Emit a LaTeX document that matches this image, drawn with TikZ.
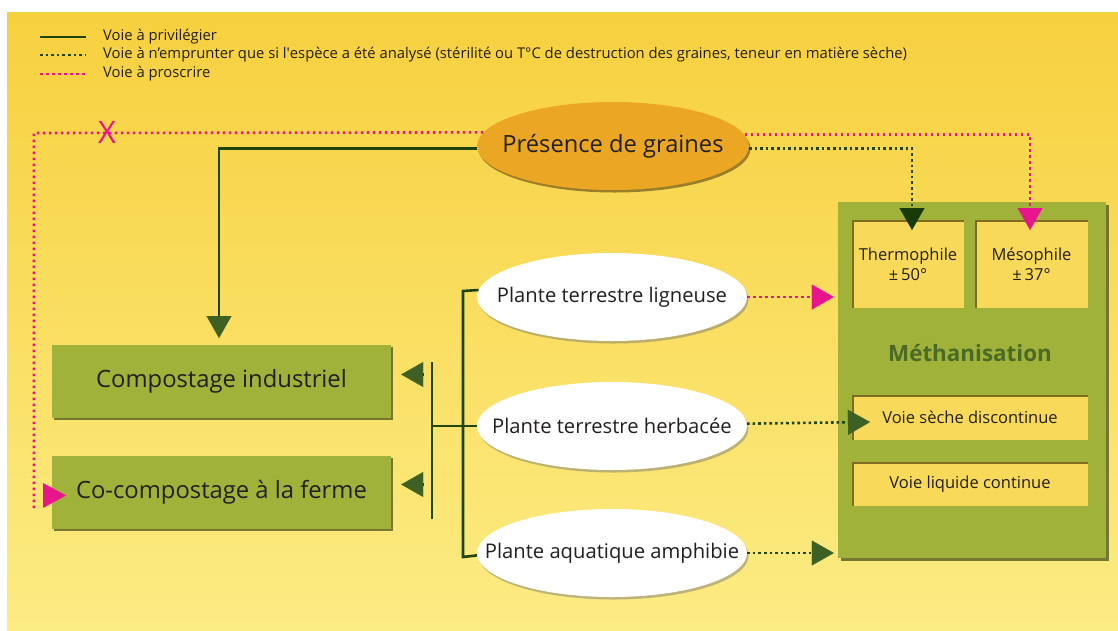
\documentclass[tikz,border=0pt]{standalone}
\usepackage{fontspec}
\setmainfont{Open Sans}
\usetikzlibrary{arrows.meta,shapes.geometric,shadows}
\definecolor{bgtop}{HTML}{F7D03E}
\definecolor{bgbot}{HTML}{FCEC84}
\definecolor{lgreen}{HTML}{1F4410}
\definecolor{agreen}{HTML}{3F6023}
\definecolor{dgreen}{HTML}{163A08}
\definecolor{pinkc}{HTML}{E8158C}
\definecolor{boxgreen}{HTML}{A0B23A}
\definecolor{orangec}{HTML}{EBA723}
\definecolor{inyellow}{HTML}{F8D95A}
\definecolor{insetc}{HTML}{7D6C22}
\definecolor{methc}{HTML}{4A6A26}
\definecolor{txt}{HTML}{231F20}
\pgfdeclarelayer{bglayer}
\pgfsetlayers{bglayer,main}
\begin{document}
\begin{tikzpicture}[x=1pt,y=-1pt,
  every node/.style={text=txt},
  every label/.style={text=txt},
  solidline/.style={draw=lgreen,line width=2.6pt},
  greendots/.style={draw=lgreen,line width=2.6pt,dash pattern=on 2.6pt off 3pt},
  pinkdots/.style={draw=pinkc,line width=2.6pt,dash pattern=on 2.6pt off 3.4pt},
  tipstyle/.style={-{Triangle[length=22pt,width=25pt,line width=0.1pt,color=#1]}},
  legtext/.style={anchor=west,inner sep=0pt,font=\fontsize{14.8}{16}\selectfont},
  seed/.style={ellipse,fill=orangec,minimum width=272pt,minimum height=88pt,inner sep=0pt,
    drop shadow={shadow xshift=1.5pt,shadow yshift=-2.5pt,fill=black!60!orangec,opacity=.6}},
  plant/.style={ellipse,fill=white,minimum width=270pt,minimum height=88pt,inner sep=0pt,
    drop shadow={shadow xshift=1.5pt,shadow yshift=-2.5pt,fill=black!55,opacity=.45}},
  bigtext/.style={font=\fontsize{23.7}{26}\selectfont},
  planttext/.style={font=\fontsize{20.2}{24}\selectfont},
  compbox/.style={rectangle,fill=boxgreen,minimum width=339pt,minimum height=73pt,inner sep=0pt,
    font=\fontsize{23.8}{26}\selectfont,
    drop shadow={shadow xshift=2pt,shadow yshift=-2pt,fill=black!60!boxgreen,opacity=.7}},
  methbox/.style={rectangle,fill=boxgreen,inner sep=0pt,
    drop shadow={shadow xshift=2.5pt,shadow yshift=-2.5pt,fill=black!60!boxgreen,opacity=.7}},
  innerbox/.style={rectangle,fill=inyellow,inner sep=0pt,align=center,
    font=\fontsize{16.5}{20}\selectfont,
    path picture={\draw[line width=3.5pt,insetc]
      (path picture bounding box.south west) -- (path picture bounding box.north west)
      -- (path picture bounding box.north east);}}
]
\useasboundingbox (0,0) rectangle (1118,630);
\begin{pgfonlayer}{bglayer}
\shade[top color=bgtop,bottom color=bgbot] (7,12) rectangle (1118,630);
\end{pgfonlayer}

% legend
\coordinate (lg1a) at (40,37); \coordinate (lg1b) at (86,37);
\coordinate (lg2a) at (40,55); \coordinate (lg2b) at (86,55);
\coordinate (lg3a) at (40,74); \coordinate (lg3b) at (86,74);
\node[legtext] (lt1) at (103,37) {Voie à privilégier};
\node[legtext] (lt2) at (103,55) {Voie à n’emprunter que si l\textquotesingle espèce a été analysé (stérilité ou T°C de destruction des graines, teneur en matière sèche)};
\node[legtext] (lt3) at (103,74) {Voie à proscrire};
\draw[solidline] (lg1a) -- (lg1b);
\draw[greendots] (lg2a) -- (lg2b);
\draw[pinkdots] (lg3a) -- (lg3b);

% main nodes
\node[seed,label={[bigtext]center:Présence de graines}] (pres) at (613,146) {};
\node[plant,label={[planttext]center:Plante terrestre ligneuse}] (lig) at (612,297) {};
\node[plant,label={[planttext]center:Plante terrestre herbacée}] (herb) at (612,426) {};
\node[plant,label={[planttext]center:Plante aquatique amphibie}] (amph) at (612,553) {};
\node[compbox] (ci) at (221.5,381.5) {Compostage industriel};
\node[compbox] (cc) at (221.5,492.5) {Co-compostage à la ferme};
\node[methbox,minimum width=268pt,minimum height=356pt] (meth) at (972,380) {};
\node[innerbox,minimum width=112pt,minimum height=88pt] (thermo) at (908,264) {Thermophile\\±\,50°};
\node[innerbox,minimum width=113pt,minimum height=88pt] (meso) at (1031.5,264) {Mésophile\\±\,37°};
\node[font=\bfseries\fontsize{22.4}{26}\selectfont,text=methc] (methlbl) at (970,353) {Méthanisation};
\node[innerbox,minimum width=236pt,minimum height=45pt] (seche) at (970,417.5) {Voie sèche discontinue};
\node[innerbox,minimum width=236pt,minimum height=44pt] (liq) at (970,484) {Voie liquide continue};

% coordinates
\coordinate (pkL1) at (34,133);
\coordinate (pkL2) at (34,508);
\coordinate (pkR) at (1030,230);
\coordinate (thtip) at (912,230);
\coordinate (citip) at (219,338);
\coordinate (brT) at (463,291);
\coordinate (brB) at (463,557);
\coordinate (brM) at (432,426);
\coordinate (bv1) at (432,362);
\coordinate (bv2) at (432,519);
\coordinate (a1s) at (423,374.5);
\coordinate (a2s) at (423,484.5);
\coordinate (hbtip) at (870,422);

% connectors
\draw[solidline,tipstyle=agreen] (pres.181.3) -| (citip);
\draw[pinkdots] (pres.174.3) -- (pkL1) -- (pkL2);
\fill[pinkc] (43,483) -- (66,495.5) -- (43,508) -- cycle;
\draw[pinkdots,tipstyle=pinkc] (pres.5.7) -| (pkR);
\draw[greendots,tipstyle=dgreen] (pres.-1.3) -| (thtip);

\draw[solidline] (lig.177.4) -- (brT) -- (brB) -- (amph.181.7);
\draw[solidline] (herb.west) -- (brM);
\draw[solidline] (bv1) -- (bv2);
\draw[solidline,tipstyle=agreen,shorten >=10pt] (a1s) -- (a1s -| ci.east);
\draw[solidline,tipstyle=agreen,shorten >=10pt] (a2s) -- (a2s -| cc.east);

\draw[pinkdots,tipstyle=pinkc,shorten >=4pt] (lig.east) -- (lig.east -| meth.west);
\draw[greendots,tipstyle=agreen] (herb.1.7) -- (hbtip);
\draw[greendots,tipstyle=agreen,shorten >=4pt] (amph.east) -- (amph.east -| meth.west);

\node[text=pinkc,font=\fontsize{31}{31}\selectfont,inner sep=0pt] (xmark) at (107,132) {X};
\end{tikzpicture}
\end{document}
